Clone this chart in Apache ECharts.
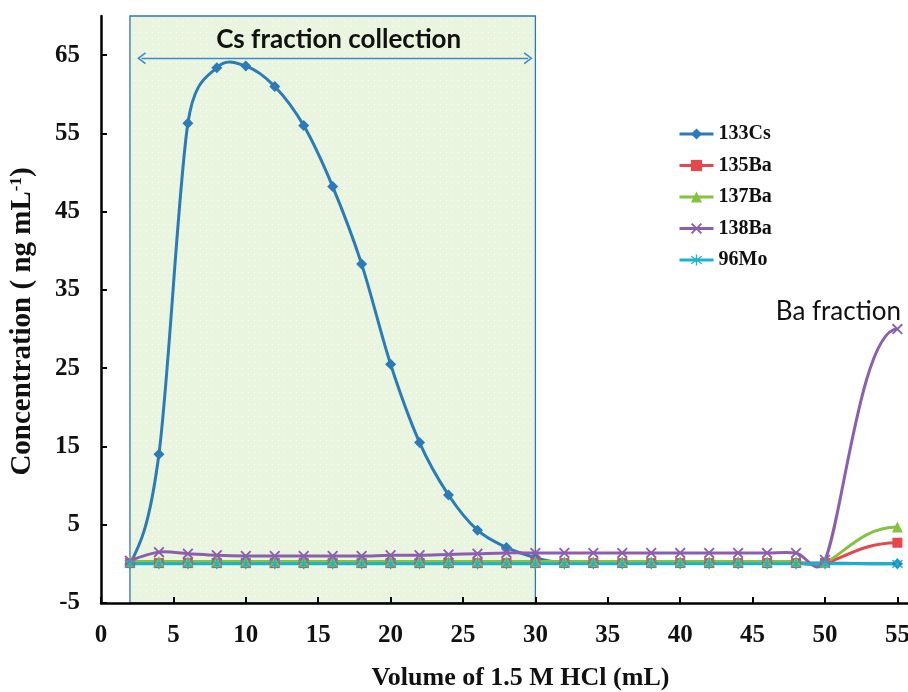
<!DOCTYPE html>
<html>
<head>
<meta charset="utf-8">
<script src="https://cdn.jsdelivr.net/npm/echarts@6/dist/echarts.min.js"></script>
<style>html,body{margin:0;padding:0;background:#fff}#c{width:908px;height:692px}</style>
</head>
<body>
<div id="c"></div>
<script>
const xValues = [2,4,6,8,10,12,14,16,18,20,22,24,26,28,30,32,34,36,38,40,42,44,46,48,50,55];
const cs133 = [0,14,56.3,63.4,63.6,61,56,48.2,38.3,25.5,15.5,8.8,4.3,2.1,0.8,0.1,0.1,0.1,0.1,0.1,0.1,0.1,0.1,0.1,0.1,0];
const ba135 = [0.1,0.1,0.1,0.1,0.1,0.1,0.1,0.1,0.1,0.1,0.1,0.1,0.1,0.1,0.1,0.1,0.1,0.1,0.1,0.1,0.1,0.1,0.1,0.1,0.1,2.7];
const ba137 = [0.3,0.3,0.3,0.3,0.3,0.3,0.3,0.3,0.3,0.3,0.3,0.3,0.3,0.3,0.3,0.3,0.3,0.3,0.3,0.3,0.3,0.3,0.3,0.3,0.2,4.7];
const ba138 = [0.4,1.5,1.3,1.1,1.0,1.0,1.0,1.0,1.0,1.1,1.1,1.2,1.3,1.4,1.4,1.4,1.4,1.4,1.4,1.4,1.4,1.4,1.4,1.4,0.5,30];
const mo96  = [0,0,0,0,0,0,0,0,0,0,0,0,0,0,0,0,0,0,0,0,0,0,0,0,0,0];
const seriesNames = ['133Cs','135Ba','137Ba','138Ba','96Mo'];
const yTickValues = [-5,5,15,25,35,45,55,65];
const xTickValues = [0,5,10,15,20,25,30,35,40,45,50,55,60];
const csWindow = [2,30];
const arrowSpan = [2.8,29.5];
const arrowLevel = 64.6;
const baLabelPoint = [55,30];

const colors = ['#2b7bb9','#e5474b','#86c241','#8b5fae','#1ab2cc'];
const crossSym = 'path://M0,1.2L1.2,0L10,8.8L8.8,10Z M8.8,0L10,1.2L1.2,10L0,8.8Z';
const starSym = 'path://M4.4,0L5.6,0L5.6,10L4.4,10Z M0.2,2.1L0.8,1.1L9.8,7.9L9.2,8.9Z M0.8,8.9L0.2,7.9L9.2,1.1L9.8,2.1Z';
const chevron = 'path://M5,0L10,8L9,9L5,2.6L1,9L0,8Z';

function pattern(){
  const c = document.createElement('canvas');
  c.width = 6; c.height = 6;
  const g = c.getContext('2d');
  g.fillStyle = '#e9f5df'; g.fillRect(0,0,6,6);
  g.fillStyle = 'rgba(255,255,255,0.9)'; g.fillRect(2,2,1,1);
  return c;
}
const zip = ys => xValues.map((x,i)=>[x,ys[i]]);

// smooth curve (Catmull-Rom style Bezier, control arms capped by neighbouring segment length)
function curvePath(ys, api){
  const P = xValues.map((x,i)=>api.coord([x, ys[i]]));
  const n = P.length;
  const len = (a,b)=>Math.hypot(b[0]-a[0], b[1]-a[1]);
  const T = P.map((p,i)=>{
    if (i === 0 || i === n-1) return null;
    return [(P[i+1][0]-P[i-1][0])/2, (P[i+1][1]-P[i-1][1])/2];
  });
  // natural start, level end (curve continues beyond the cropped edge)
  T[0] = [(3*(P[1][0]-P[0][0]) - T[1][0])/2, (3*(P[1][1]-P[0][1]) - T[1][1])/2];
  T[n-1] = [1.5*(P[n-1][0]-P[n-2][0]), 0];
  const arm = (i, side) => {
    const t = [T[i][0]/3, T[i][1]/3];
    const l = Math.hypot(t[0], t[1]) || 1;
    const seg = side > 0 ? len(P[i], P[i+1]) : len(P[i-1], P[i]);
    const k = Math.min(1, 0.7*seg/l);
    return [t[0]*k*side, t[1]*k*side];
  };
  let d = 'M' + P[0][0] + ',' + P[0][1];
  for (let i = 0; i < n-1; i++){
    const a = arm(i, 1), b = arm(i+1, -1);
    const c1 = [P[i][0]+a[0], P[i][1]+a[1]];
    const c2 = [P[i+1][0]+b[0], P[i+1][1]+b[1]];
    d += ' C' + c1[0] + ',' + c1[1] + ' ' + c2[0] + ',' + c2[1] + ' ' + P[i+1][0] + ',' + P[i+1][1];
  }
  return d;
}

const serif = 'Liberation Serif';
const chart = echarts.init(document.getElementById('c'));
const allData = [cs133, ba135, ba137, ba138, mo96];
const symbols = ['diamond','rect','triangle',crossSym,starSym];
const sizes = [11,10,11,11,11];

const curves = allData.map((ys,k)=>({
  type:'custom', coordinateSystem:'cartesian2d', silent:true, z: 2 + k*0.01,
  data: zip(ys), encode:{x:0, y:1},
  renderItem: (params, api) => params.dataIndex !== 0 ? null : ({
    type:'path', shape:{pathData: curvePath(ys, api)},
    style:{stroke: colors[k], lineWidth: 3, fill: 'none', lineJoin:'round'}
  })
}));
const markers = allData.map((ys,k)=>({
  name: seriesNames[k], type:'line', data: zip(ys), symbol: symbols[k], symbolSize: sizes[k],
  showSymbol: true, lineStyle:{color: colors[k], width: 3, opacity: 0}, itemStyle:{color: colors[k]}, z: 5
}));
markers[3].markPoint = {
  silent: true, symbol: 'circle', symbolSize: 1, itemStyle: {color: 'rgba(0,0,0,0)'},
  label: {show: true, formatter: 'Ba fraction', position: 'inside', offset: [-59, -17],
    fontFamily: 'Lato', fontSize: 26, color: '#111'},
  data: [{coord: baLabelPoint}]
};
const region = {
  type:'line', data: [], z: 1, silent: true,
  markArea: {
    silent: true,
    itemStyle: {color: {image: pattern(), repeat: 'repeat'}, borderColor: '#2f76b3', borderWidth: 1.3},
    label: {show: true, position: 'insideTop', distance: 8, offset: [6, 3], formatter: 'Cs fraction collection',
      fontFamily: 'Lato', fontWeight: 'bold', fontSize: 26, color: '#111'},
    data: [[{xAxis: csWindow[0]}, {xAxis: csWindow[1]}]]
  },
  markLine: {
    silent: true, symbol: [chevron, chevron], symbolSize: [12, 9],
    lineStyle: {color: '#3d8ccc', width: 1.3, type: 'solid'}, label: {show: false},
    data: [[{coord: [arrowSpan[0], arrowLevel]}, {coord: [arrowSpan[1], arrowLevel]}]]
  }
};

chart.setOption({
  animation: false,
  backgroundColor: '#fff',
  grid: {left: 101, top: 16, width: 868.8, height: 587, outerBoundsMode: 'none', containLabel: false},
  legend: {
    orient: 'vertical', left: 673, top: 119, itemGap: 11.5, itemWidth: 34, itemHeight: 14,
    textStyle: {fontFamily: serif, fontWeight: 'bold', fontSize: 20, lineHeight: 20, color: '#111'},
    lineStyle: {opacity: 1, width: 3},
    data: seriesNames
  },
  xAxis: {
    type: 'value', min: 0, max: 60, interval: 5, z: 10,
    name: 'Volume of 1.5 M HCl (mL)', nameLocation: 'middle', nameGap: 62,
    nameTextStyle: {fontFamily: serif, fontWeight: 'bold', fontSize: 26, color: '#111', padding: [0, 30, 0, 0]},
    axisLine: {onZero: false, lineStyle: {color: '#000', width: 2.5}},
    axisTick: {inside: true, length: 6, lineStyle: {color: '#000', width: 2}, customValues: xTickValues},
    axisLabel: {margin: 20, fontFamily: serif, fontWeight: 'bold', fontSize: 25, color: '#111', customValues: xTickValues},
    splitLine: {show: false}
  },
  yAxis: {
    type: 'value', min: -5, max: 70, interval: 10, z: 10,
    name: 'Concentration ( ng mL{sup|-1})', nameLocation: 'middle', nameGap: 63,
    nameTextStyle: {fontFamily: serif, fontWeight: 'bold', fontSize: 29, color: '#111', padding: [0, 24, 0, 0],
      rich: {sup: {fontFamily: serif, fontWeight: 'bold', fontSize: 17, color: '#111', verticalAlign: 'top', padding: [0,0,13,0]}}},
    axisLine: {show: true, onZero: false, lineStyle: {color: '#000', width: 2.5}},
    axisTick: {show: true, inside: true, length: 6, lineStyle: {color: '#000', width: 2}, customValues: yTickValues},
    axisLabel: {margin: 21, fontFamily: serif, fontWeight: 'bold', fontSize: 25, color: '#111', customValues: yTickValues},
    splitLine: {show: false}
  },
  series: [region].concat(curves, markers)
});
</script>
</body>
</html>
